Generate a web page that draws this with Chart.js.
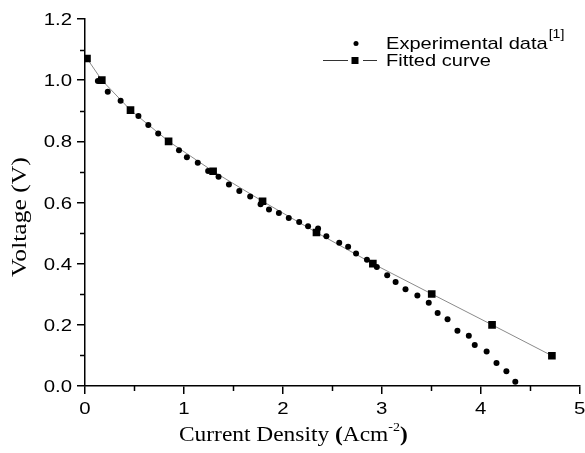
<!DOCTYPE html>
<html>
<head>
<meta charset="utf-8">
<script src="https://cdn.jsdelivr.net/npm/chart.js@4.4.0/dist/chart.umd.min.js"></script>
<style>
  body { margin: 0; background: #fff; }
</style>
</head>
<body>
<canvas id="chart" width="585" height="453"></canvas>
<script>
// experimental data (current density, voltage)
const expX = [0.13, 0.23, 0.36, 0.54, 0.64, 0.74, 0.95, 1.03, 1.14, 1.245, 1.35, 1.455, 1.56, 1.67,
  1.775, 1.86, 1.96, 2.06, 2.165, 2.255, 2.356, 2.44, 2.57, 2.66, 2.74, 2.85, 2.95, 3.055, 3.14,
  3.24, 3.36, 3.475, 3.565, 3.665, 3.765, 3.88, 3.94, 4.06, 4.16, 4.26, 4.35];
const expY = [0.997, 0.962, 0.933, 0.883, 0.853, 0.826, 0.771, 0.748, 0.730, 0.703, 0.684, 0.659, 0.638, 0.620,
  0.594, 0.577, 0.566, 0.549, 0.536, 0.522, 0.515, 0.490, 0.468, 0.455, 0.433, 0.413, 0.389, 0.362, 0.340,
  0.316, 0.296, 0.272, 0.239, 0.218, 0.181, 0.164, 0.134, 0.113, 0.075, 0.048, 0.014];

// fitted curve
const fitX = [0.02, 0.17, 0.46, 0.845, 1.295, 1.795, 2.34, 2.91, 3.505, 4.115, 4.72];
const fitY = [1.071, 1.0, 0.902, 0.80, 0.702, 0.604, 0.502, 0.40, 0.301, 0.20, 0.099];

const xTicks = [0, 1, 2, 3, 4, 5];
const xTickLabels = ['0', '1', '2', '3', '4', '5'];
const xMinor = [0.5, 1.5, 2.5, 3.5, 4.5];
const yTicks = [0, 0.2, 0.4, 0.6, 0.8, 1.0, 1.2];
const yTickLabels = ['0.0', '0.2', '0.4', '0.6', '0.8', '1.0', '1.2'];
const yMinor = [0.1, 0.3, 0.5, 0.7, 0.9, 1.1];

const SANS = '"Liberation Sans", Arial, sans-serif';
const SERIF = '"Liberation Serif", "Times New Roman", serif';

// draws text stretched a bit along its direction, like the original
function txt(ctx, s, x, y, font, sx, align) {
  ctx.save();
  ctx.font = font;
  const w = ctx.measureText(s).width * sx;
  let x0 = x;
  if (align === 'right') x0 = x - w;
  else if (align === 'center') x0 = x - w / 2;
  ctx.translate(x0, y);
  ctx.scale(sx, 1);
  ctx.textAlign = 'left';
  ctx.textBaseline = 'alphabetic';
  ctx.fillStyle = '#000';
  ctx.fillText(s, 0, 0);
  ctx.restore();
  return w;
}

const decorations = {
  id: 'decorations',
  afterDraw(chart) {
    const ctx = chart.ctx;
    const xs = chart.scales.x, ys = chart.scales.y;
    const left = chart.chartArea.left, bottom = chart.chartArea.bottom;

    // minor ticks
    ctx.save();
    ctx.strokeStyle = '#000';
    ctx.lineWidth = 1.5;
    ctx.beginPath();
    xMinor.forEach(v => {
      const px = Math.round(xs.getPixelForValue(v)) + 0.5;
      ctx.moveTo(px, bottom);
      ctx.lineTo(px, bottom + 5);
    });
    yMinor.forEach(v => {
      const py = Math.round(ys.getPixelForValue(v)) + 0.5;
      ctx.moveTo(left, py);
      ctx.lineTo(left - 5, py);
    });
    ctx.stroke();
    ctx.restore();

    // tick labels
    const tf = '17px ' + SANS;
    xTicks.forEach((v, i) => {
      txt(ctx, xTickLabels[i], xs.getPixelForValue(v), 414, tf, 1.2, 'center');
    });
    yTicks.forEach((v, i) => {
      txt(ctx, yTickLabels[i], 72, ys.getPixelForValue(v) + 6, tf, 1.2, 'right');
    });

    // x title
    const f1 = '20px ' + SERIF, fb = 'bold 20px ' + SERIF, fs = '12px ' + SERIF;
    const sx = 1.17;
    let x = 179;
    x += txt(ctx, 'Current Density ', x, 441, f1, sx, 'left');
    x += txt(ctx, '(', x, 441, fb, sx, 'left');
    x += txt(ctx, 'Acm', x, 441, f1, sx, 'left');
    x += txt(ctx, '-2', x, 431, fs, sx, 'left');
    txt(ctx, ')', x, 441, fb, sx, 'left');

    // y title
    ctx.save();
    ctx.translate(25.5, 217);
    ctx.rotate(-Math.PI / 2);
    txt(ctx, 'Voltage (V)', 0, 0, '21px ' + SERIF, 1.22, 'center');
    ctx.restore();

    // legend
    const lf = '17px ' + SANS;
    ctx.save();
    ctx.fillStyle = '#000';
    ctx.beginPath();
    ctx.arc(356, 43.5, 2.5, 0, Math.PI * 2);
    ctx.fill();
    ctx.strokeStyle = '#333';
    ctx.lineWidth = 1;
    ctx.beginPath();
    ctx.moveTo(323, 60.5); ctx.lineTo(348, 60.5);
    ctx.moveTo(363, 60.5); ctx.lineTo(377, 60.5);
    ctx.stroke();
    ctx.fillRect(351.5, 57, 7, 7);
    ctx.restore();
    const w = txt(ctx, 'Experimental data', 386, 48.5, lf, 1.18, 'left');
    txt(ctx, '[1]', 386 + w + 1, 38, '12px ' + SANS, 1.18, 'left');
    txt(ctx, 'Fitted curve', 386, 66, lf, 1.18, 'left');
  }
};

const toPts = (xa, ya) => xa.map((v, i) => ({ x: v, y: ya[i] }));

new Chart(document.getElementById('chart').getContext('2d'), {
  type: 'scatter',
  data: {
    datasets: [
      {
        label: 'Experimental data',
        data: toPts(expX, expY),
        showLine: false,
        pointStyle: 'circle',
        pointRadius: 3,
        pointBackgroundColor: '#000',
        pointBorderWidth: 0,
      },
      {
        label: 'Fitted curve',
        data: toPts(fitX, fitY),
        showLine: true,
        borderColor: '#8a8a8a',
        borderWidth: 1,
        pointStyle: 'rect',
        pointRadius: 5.4,
        pointBackgroundColor: '#000',
        pointBorderWidth: 0,
      },
    ],
  },
  options: {
    responsive: false,
    animation: false,
    layout: { padding: { left: 85, right: 5, top: 19, bottom: 67 } },
    plugins: {
      legend: { display: false },
      tooltip: { enabled: false },
    },
    scales: {
      x: {
        type: 'linear',
        min: 0,
        max: 5,
        ticks: { display: false, stepSize: 1 },
        grid: { display: true, drawOnChartArea: false, drawTicks: true, tickLength: 8, color: '#000', lineWidth: 1.5 },
        border: { display: true, color: '#000', width: 1.5 },
        afterFit: (s) => { s.height = 0; },
      },
      y: {
        type: 'linear',
        min: 0,
        max: 1.2,
        ticks: { display: false, stepSize: 0.2 },
        grid: { display: true, drawOnChartArea: false, drawTicks: true, tickLength: 8, color: '#000', lineWidth: 1.5 },
        border: { display: true, color: '#000', width: 1.5 },
        afterFit: (s) => { s.width = 0; },
      },
    },
  },
  plugins: [decorations],
});
</script>
</body>
</html>
